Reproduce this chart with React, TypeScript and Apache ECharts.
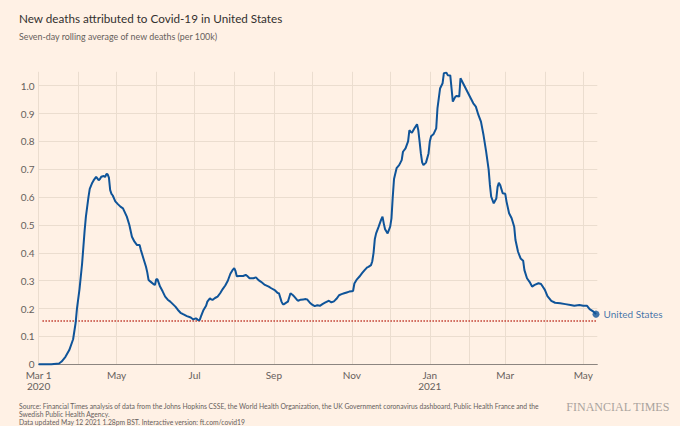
import { useEffect, useRef } from "react";
import * as echarts from "echarts";

const AXIS_START = "2020-03-01";
const AXIS_END = "2021-05-12";

const sampleDates: string[] = [
  "2020-03-01", "2020-03-11", "2020-03-17", "2020-03-19", "2020-03-22", "2020-03-25", "2020-03-28", "2020-03-30",
  "2020-03-31", "2020-04-02", "2020-04-04", "2020-04-06", "2020-04-07", "2020-04-08", "2020-04-09", "2020-04-10",
  "2020-04-12", "2020-04-13", "2020-04-15", "2020-04-17", "2020-04-18", "2020-04-19", "2020-04-21", "2020-04-22",
  "2020-04-23", "2020-04-24", "2020-04-25", "2020-04-26", "2020-04-27", "2020-04-28", "2020-04-30", "2020-05-02",
  "2020-05-04", "2020-05-06", "2020-05-07", "2020-05-09", "2020-05-11", "2020-05-13", "2020-05-15", "2020-05-16",
  "2020-05-17", "2020-05-19", "2020-05-20", "2020-05-22", "2020-05-24", "2020-05-25", "2020-05-26", "2020-05-28",
  "2020-05-30", "2020-05-31", "2020-06-01", "2020-06-02", "2020-06-04", "2020-06-06", "2020-06-08", "2020-06-10",
  "2020-06-12", "2020-06-14", "2020-06-16", "2020-06-18", "2020-06-20", "2020-06-22", "2020-06-25", "2020-06-28",
  "2020-06-30", "2020-07-02", "2020-07-03", "2020-07-04", "2020-07-05", "2020-07-06", "2020-07-08", "2020-07-10",
  "2020-07-11", "2020-07-13", "2020-07-14", "2020-07-15", "2020-07-17", "2020-07-19", "2020-07-21", "2020-07-23",
  "2020-07-25", "2020-07-27", "2020-07-29", "2020-07-31", "2020-08-01", "2020-08-02", "2020-08-03", "2020-08-05",
  "2020-08-08", "2020-08-10", "2020-08-11", "2020-08-13", "2020-08-16", "2020-08-18", "2020-08-20", "2020-08-22",
  "2020-08-25", "2020-08-28", "2020-08-30", "2020-09-02", "2020-09-04", "2020-09-05", "2020-09-07", "2020-09-08",
  "2020-09-09", "2020-09-11", "2020-09-12", "2020-09-13", "2020-09-14", "2020-09-16", "2020-09-17", "2020-09-19",
  "2020-09-20", "2020-09-22", "2020-09-24", "2020-09-26", "2020-09-27", "2020-09-29", "2020-10-01", "2020-10-03",
  "2020-10-05", "2020-10-07", "2020-10-09", "2020-10-11", "2020-10-13", "2020-10-14", "2020-10-16", "2020-10-18",
  "2020-10-20", "2020-10-22", "2020-10-24", "2020-10-26", "2020-10-28", "2020-10-30", "2020-11-01", "2020-11-02",
  "2020-11-03", "2020-11-05", "2020-11-07", "2020-11-09", "2020-11-11", "2020-11-13", "2020-11-14", "2020-11-16",
  "2020-11-17", "2020-11-18", "2020-11-19", "2020-11-20", "2020-11-22", "2020-11-24", "2020-11-25", "2020-11-26",
  "2020-11-27", "2020-11-29", "2020-12-01", "2020-12-02", "2020-12-03", "2020-12-04", "2020-12-06", "2020-12-08",
  "2020-12-10", "2020-12-11", "2020-12-13", "2020-12-15", "2020-12-16", "2020-12-17", "2020-12-18", "2020-12-20",
  "2020-12-22", "2020-12-23", "2020-12-24", "2020-12-25", "2020-12-26", "2020-12-27", "2020-12-29", "2020-12-31",
  "2021-01-01", "2021-01-02", "2021-01-04", "2021-01-06", "2021-01-07", "2021-01-08", "2021-01-09", "2021-01-11",
  "2021-01-12", "2021-01-14", "2021-01-15", "2021-01-17", "2021-01-18", "2021-01-19", "2021-01-21", "2021-01-22",
  "2021-01-24", "2021-01-25", "2021-01-27", "2021-01-29", "2021-01-31", "2021-02-02", "2021-02-04", "2021-02-06",
  "2021-02-08", "2021-02-10", "2021-02-12", "2021-02-14", "2021-02-16", "2021-02-17", "2021-02-18", "2021-02-20",
  "2021-02-22", "2021-02-23", "2021-02-24", "2021-02-25", "2021-02-27", "2021-03-01", "2021-03-02", "2021-03-04",
  "2021-03-06", "2021-03-08", "2021-03-09", "2021-03-11", "2021-03-13", "2021-03-15", "2021-03-16", "2021-03-18",
  "2021-03-20", "2021-03-22", "2021-03-24", "2021-03-27", "2021-03-29", "2021-04-01", "2021-04-03", "2021-04-06",
  "2021-04-09", "2021-04-13", "2021-04-17", "2021-04-21", "2021-04-24", "2021-04-28", "2021-05-01", "2021-05-04",
  "2021-05-06", "2021-05-09", "2021-05-11",
];

const deathsPer100k: number[] = [
  0, 0, 0.003, 0.01, 0.027, 0.051, 0.09, 0.15,
  0.2, 0.27, 0.36, 0.48, 0.53, 0.565, 0.6, 0.63,
  0.652, 0.66, 0.673, 0.661, 0.665, 0.673, 0.676, 0.672,
  0.683, 0.682, 0.67, 0.625, 0.612, 0.606, 0.585, 0.575,
  0.566, 0.56, 0.55, 0.53, 0.5, 0.458, 0.44, 0.434,
  0.428, 0.428, 0.41, 0.38, 0.35, 0.33, 0.303, 0.295,
  0.287, 0.285, 0.305, 0.305, 0.279, 0.262, 0.243, 0.232,
  0.225, 0.216, 0.207, 0.195, 0.185, 0.18, 0.173, 0.168,
  0.161, 0.165, 0.162, 0.158, 0.159, 0.172, 0.195, 0.21,
  0.225, 0.237, 0.233, 0.231, 0.238, 0.243, 0.255, 0.27,
  0.283, 0.3, 0.325, 0.34, 0.345, 0.335, 0.316, 0.317,
  0.317, 0.321, 0.318, 0.309, 0.309, 0.312, 0.302, 0.296,
  0.285, 0.279, 0.273, 0.265, 0.256, 0.255, 0.225, 0.216,
  0.216, 0.222, 0.225, 0.24, 0.255, 0.248, 0.243, 0.232,
  0.228, 0.232, 0.233, 0.234, 0.233, 0.222, 0.214, 0.209,
  0.212, 0.21, 0.216, 0.221, 0.226, 0.228, 0.222, 0.226,
  0.235, 0.248, 0.252, 0.255, 0.258, 0.261, 0.262, 0.264,
  0.29, 0.305, 0.315, 0.327, 0.338, 0.348, 0.35, 0.356,
  0.37, 0.4, 0.45, 0.47, 0.494, 0.52, 0.53, 0.505,
  0.485, 0.47, 0.494, 0.524, 0.6, 0.665, 0.704, 0.715,
  0.733, 0.763, 0.775, 0.8, 0.84, 0.835, 0.831, 0.847,
  0.862, 0.84, 0.8, 0.757, 0.725, 0.715, 0.724, 0.757,
  0.8, 0.819, 0.827, 0.847, 0.92, 0.955, 0.99, 1.009,
  1.045, 1.047, 1.038, 1.037, 0.99, 0.943, 0.961, 0.963,
  0.961, 1.027, 1.009, 0.991, 0.973, 0.955, 0.937, 0.925,
  0.895, 0.871, 0.823, 0.765, 0.7, 0.644, 0.602, 0.578,
  0.595, 0.637, 0.652, 0.644, 0.614, 0.612, 0.584, 0.542,
  0.524, 0.494, 0.446, 0.404, 0.38, 0.372, 0.338, 0.309,
  0.296, 0.279, 0.285, 0.291, 0.288, 0.267, 0.245, 0.228,
  0.221, 0.219, 0.216, 0.213, 0.21, 0.213, 0.21, 0.21,
  0.198, 0.189, 0.18,
];

const thresholdStart = "2020-03-04";
const thresholdValue = 0.156;

const monthNames = ["Jan", "Feb", "Mar", "Apr", "May", "Jun", "Jul", "Aug", "Sep", "Oct", "Nov", "Dec"];

const titleText = "New deaths attributed to Covid-19 in United States";
const subtitleText = "Seven-day rolling average of new deaths (per 100k)";
const seriesName = "United States";
const footerText =
  "Source: Financial Times analysis of data from the Johns Hopkins CSSE, the World Health Organization, the UK Government coronavirus dashboard, Public Health France and the\nSwedish Public Health Agency.\nData updated May 12 2021 1.28pm BST. Interactive version: ft.com/covid19";

function buildDates(start: string, end: string): string[] {
  const out: string[] = [];
  const [y, m, d] = start.split("-").map(Number);
  const endT = Date.parse(end + "T00:00:00Z");
  for (let t = Date.UTC(y, m - 1, d); t <= endT; t += 86400000) {
    out.push(new Date(t).toISOString().slice(0, 10));
  }
  return out;
}

const FONT = "Lato, 'Noto Sans', sans-serif";

export default function App() {
  const ref = useRef<HTMLDivElement>(null);

  useEffect(() => {
    document.body.style.margin = "0";
    document.body.style.background = "#fff1e5";
    if (!ref.current) return;
    const chart = echarts.init(ref.current, undefined, { renderer: "svg" });

    const axisDates = buildDates(AXIS_START, AXIS_END);
    const lineData = sampleDates.map((d, i) => [axisDates.indexOf(d), deathsPer100k[i]]);
    const last = lineData[lineData.length - 1];
    const isMonthStart = (_i: number, v: string) => v.slice(8) === "01";

    chart.setOption({
      animation: false,
      backgroundColor: "#fff1e5",
      textStyle: { fontFamily: FONT },
      grid: { left: 38.6, right: 82.7, top: 71.8, bottom: 61.7, containLabel: false },
      xAxis: {
        type: "category",
        data: axisDates,
        boundaryGap: false,
        axisLine: { show: true, lineStyle: { color: "#8c8580", width: 1 } },
        axisTick: { show: false },
        splitLine: { show: true, interval: isMonthStart, lineStyle: { color: "#ebddcf", width: 1 } },
        axisLabel: {
          interval: (_i: number, v: string) => v.slice(8) === "01" && Number(v.slice(5, 7)) % 2 === 1,
          formatter: (v: string, i: number) => {
            const m = Number(v.slice(5, 7));
            const name = monthNames[m - 1];
            if (i === 0) return `${name} ${Number(v.slice(8))}\n${v.slice(0, 4)}`;
            if (m === 1) return `${name}\n${v.slice(0, 4)}`;
            return name;
          },
          color: "#66605c",
          fontSize: 10,
          lineHeight: 11,
          margin: 5,
          fontFamily: FONT,
        },
      },
      yAxis: {
        type: "value",
        min: 0,
        max: 1.05,
        interval: 0.1,
        axisLine: { show: false },
        axisTick: { show: false },
        splitLine: { show: true, showMaxLine: false, lineStyle: { color: "#ebddcf", width: 1 } },
        axisLabel: {
          showMaxLabel: false,
          formatter: (v: number) => (v === 0 ? "0" : v.toFixed(1)),
          color: "#66605c",
          fontSize: 10,
          margin: 4,
          fontFamily: FONT,
        },
      },
      series: [
        {
          name: seriesName,
          type: "line",
          data: lineData,
          showSymbol: false,
          clip: false,
          lineStyle: { color: "#0f5499", width: 2 },
          itemStyle: { color: "#0f5499" },
          z: 3,
          markLine: {
            silent: true,
            symbol: ["none", "none"],
            label: { show: false },
            lineStyle: { type: "dotted", color: "#c0392b", width: 1.5 },
            data: [
              [
                { coord: [axisDates.indexOf(thresholdStart), thresholdValue] },
                { coord: [axisDates.length - 1, thresholdValue] },
              ],
            ],
            z: 2,
          },
        },
        {
          type: "scatter",
          data: [last],
          symbolSize: 7,
          itemStyle: { color: "#0f5499" },
          z: 4,
          label: {
            show: true,
            position: "right",
            distance: 4,
            formatter: seriesName,
            color: "#0f5499",
            fontSize: 10,
            fontFamily: FONT,
          },
        },
      ],
      graphic: [
        {
          type: "text",
          left: 19,
          top: 12,
          style: { text: titleText, fill: "#33302e", font: `11.7px ${FONT}` },
        },
        {
          type: "text",
          left: 19,
          top: 32,
          style: { text: subtitleText, fill: "#66605c", font: `8.9px ${FONT}` },
        },
        {
          type: "text",
          left: 19,
          top: 402,
          style: { text: footerText, fill: "#66605c", font: `6.75px ${FONT}`, lineHeight: 8 },
        },
        {
          type: "text",
          right: 10,
          top: 401,
          style: { text: "FINANCIAL TIMES", fill: "#aaa39d", font: `12px 'Liberation Serif', serif` },
        },
      ],
    });

    return () => chart.dispose();
  }, []);

  return (
    <div
      ref={ref}
      style={{ position: "fixed", left: 0, top: 0, width: 680, height: 426, background: "#fff1e5" }}
    />
  );
}
